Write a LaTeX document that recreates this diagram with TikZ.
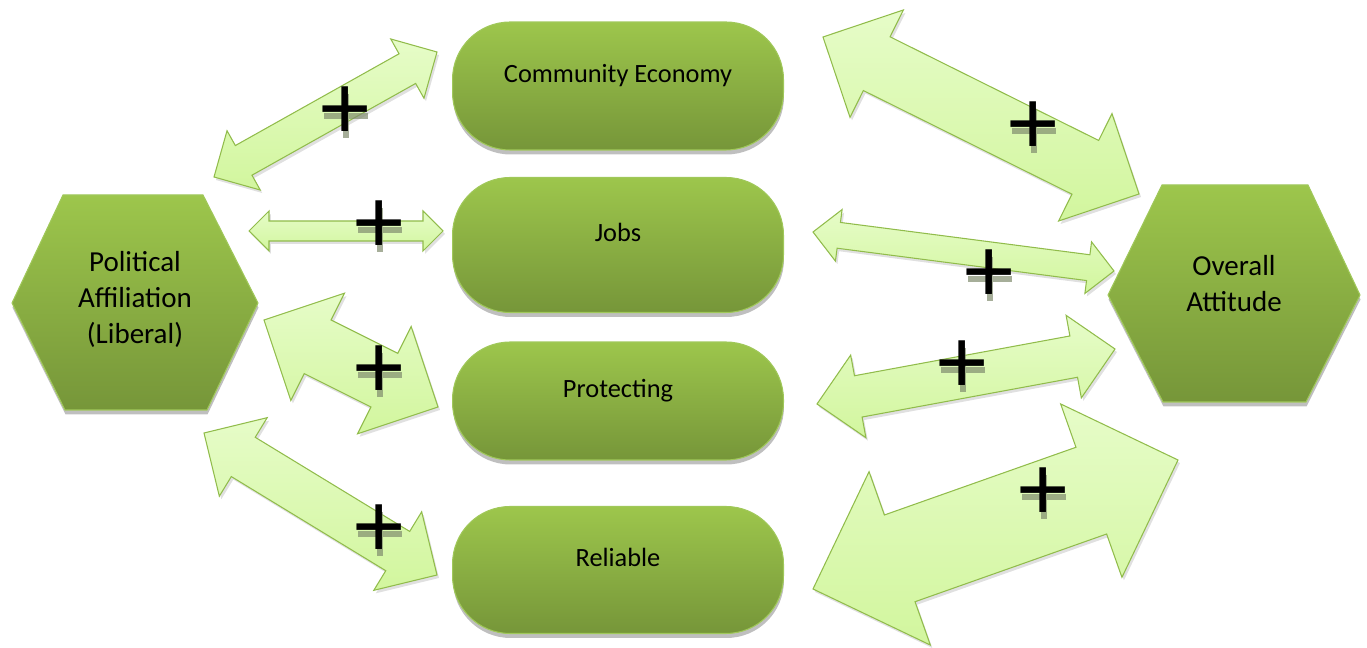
\documentclass[tikz,border=0pt]{standalone}
\usepackage{fontspec}
\setmainfont{Carlito}
\newfontfamily\plusfont{Liberation Sans}
\usepackage{tikz}
\usetikzlibrary{calc}
\usetikzlibrary{shadows}
\usetikzlibrary{positioning}

\definecolor{boxtop}{RGB}{157,198,76}
\definecolor{boxbot}{RGB}{118,150,57}
\definecolor{boxline}{RGB}{160,200,90}
\definecolor{arrowtop}{RGB}{230,252,200}
\definecolor{arrowbot}{RGB}{210,246,158}
\definecolor{arrowline}{RGB}{145,188,75}
\definecolor{plusshadow}{RGB}{128,140,110}

\tikzset{
 shape3d/.style={draw=boxline, line width=0.6pt, top color=boxtop, bottom color=boxbot,
   drop shadow={shadow xshift=0.01cm, shadow yshift=-0.09cm, fill=black!50, opacity=0.5}},
 box/.style={shape3d, rectangle, rounded corners=1.15cm, minimum width=6.62cm, inner sep=0pt,
   text height=0.4cm, text depth=0.54cm, font=\fontsize{15}{18}\selectfont},
 hextext/.style={align=center, font=\fontsize{16.5}{20.5}\selectfont},
 fatarrow/.style={draw=arrowline, line width=0.6pt, top color=arrowtop, bottom color=arrowbot,
   drop shadow={shadow xshift=0.04cm, shadow yshift=-0.06cm, fill=black!35, opacity=0.35}},
 plus/.style={inner sep=0pt, font=\plusfont\fontsize{52}{52}\selectfont},
 plusmark/.pic={
   \draw[plusshadow, line width=0.13cm, opacity=0.7] (-21,3) -- (23,3) (1,-19) -- (1,25);
   \node[plus] (-p) at (0,0) {+};
 },
}

% block arrow between two tips, #3 = half shaft width in px
\newcommand\fatarrow[3]{%
\coordinate (fa-a) at ($(#1)!#3*0.04cm!(#2)$);
\coordinate (fa-b) at ($(#2)!#3*0.04cm!(#1)$);
\path[fatarrow] (#1) -- ($(fa-a)!#3*0.04cm!90:(#2)$) -- ($(fa-a)!#3*0.02cm!90:(#2)$)
  -- ($(fa-b)!#3*0.02cm!-90:(#1)$) -- ($(fa-b)!#3*0.04cm!-90:(#1)$) -- (#2)
  -- ($(fa-b)!#3*0.04cm!90:(#1)$) -- ($(fa-b)!#3*0.02cm!90:(#1)$)
  -- ($(fa-a)!#3*0.02cm!-90:(#2)$) -- ($(fa-a)!#3*0.04cm!-90:(#2)$) -- cycle;}

\begin{document}
\begin{tikzpicture}[x=0.02cm,y=-0.02cm]
\useasboundingbox (0,0) rectangle (1367,648);

\coordinate (pol-eco) at (214,177);  \coordinate (eco-pol) at (437,52);
\coordinate (pol-jobs) at (249,231); \coordinate (jobs-pol) at (443,231);
\coordinate (pol-prot) at (264,320); \coordinate (prot-pol) at (438,407);
\coordinate (pol-rel) at (204,433);  \coordinate (rel-pol) at (437,575);
\coordinate (eco-att) at (823,37);   \coordinate (att-eco) at (1139,194);
\coordinate (jobs-att) at (813,232); \coordinate (att-jobs) at (1114,271);
\coordinate (prot-att) at (817,404); \coordinate (att-prot) at (1115,349);
\coordinate (rel-att) at (813,589);  \coordinate (att-rel) at (1178,460);

\fatarrow{pol-eco}{eco-pol}{17}
\fatarrow{pol-jobs}{jobs-pol}{10}
\fatarrow{pol-prot}{prot-pol}{30}
\fatarrow{pol-rel}{rel-pol}{23}
\fatarrow{eco-att}{att-eco}{30}
\fatarrow{jobs-att}{att-jobs}{13}
\fatarrow{prot-att}{att-prot}{21}
\fatarrow{rel-att}{att-rel}{46}

\path[shape3d] (12,303) -- (63,195) -- (203,195) -- (258,303) -- (207,410) -- (65,410) -- cycle;
\node[hextext] (pol) at (135,299) {Political\\Affiliation\\(Liberal)};
\path[shape3d] (1108,295) -- (1162,185) -- (1308,185) -- (1360,295) -- (1306,402) -- (1163,402) -- cycle;
\node[hextext] (att) at (1234,284) {Overall\\Attitude};

\node[box, minimum height=2.56cm] (eco) at (618,86) {Community Economy};
\node[box, minimum height=2.7cm] (jobs) at (618,245) {Jobs};
\node[box, minimum height=2.36cm] (prot) at (618,401) {Protecting};
\node[box, minimum height=2.54cm] (rel) at (618,570) {Reliable};

\pic (s1) at (345,113) {plusmark};
\pic (s2) at (379,227) {plusmark};
\pic (s3) at (379,372) {plusmark};
\pic (s4) at (379,531) {plusmark};
\pic (s5) at (1033,128) {plusmark};
\pic (s6) at (989,276) {plusmark};
\pic (s7) at (962,367) {plusmark};
\pic (s8) at (1043,494) {plusmark};
\end{tikzpicture}
\end{document}
